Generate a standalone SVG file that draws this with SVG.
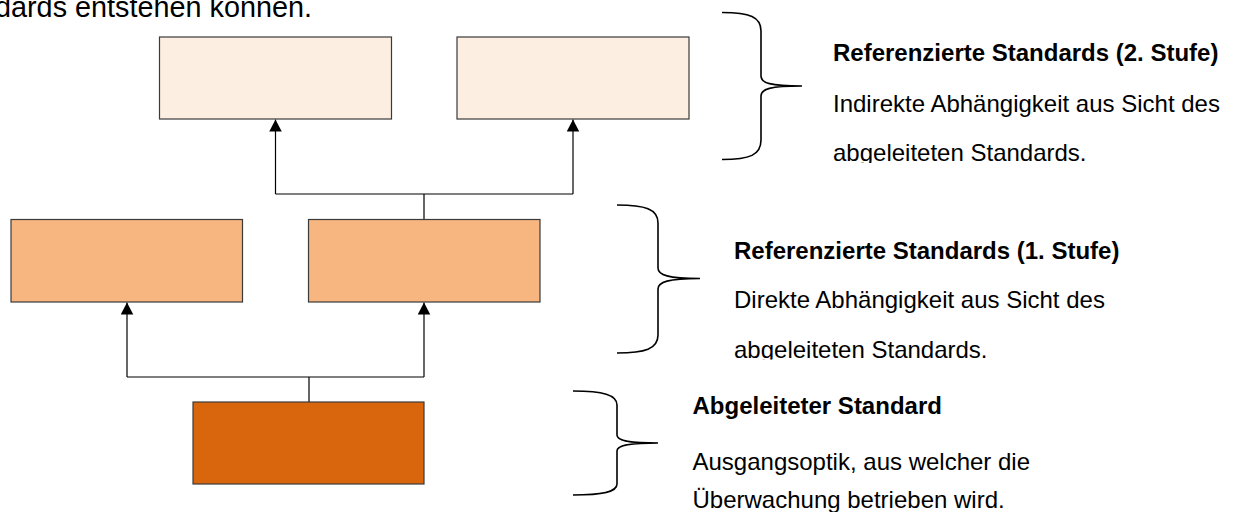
<svg xmlns="http://www.w3.org/2000/svg" width="1240" height="512" viewBox="0 0 1240 512">
<style>
  .box { stroke: #3a3a3a; stroke-width: 1.2; }
  .lvl2 { fill: #FDEEE2; }
  .lvl1 { fill: #F7B580; }
  .lvl0 { fill: #D9660C; }
  .conn { fill: none; stroke: #000; stroke-width: 1.2; }
  .brace { fill: none; stroke: #000; stroke-width: 1.6; }
  .t { font-family: "Liberation Sans", Arial, sans-serif; font-size: 24px; fill: #000; }
  .b { font-weight: bold; }
  .top { font-family: "Liberation Sans", Arial, sans-serif; font-size: 28.8px; fill: #000; }
</style>
<defs>
  <marker id="arr" markerWidth="13" markerHeight="13" refX="12" refY="6.25" orient="auto" markerUnits="userSpaceOnUse">
    <path d="M0,0 L12,6.25 L0,12.5 Z" fill="#000"/>
  </marker>
  <clipPath id="c2"><rect x="800" y="0" width="440" height="163"/></clipPath>
  <clipPath id="c1"><rect x="700" y="200" width="540" height="159.5"/></clipPath>
</defs>

<text class="top" x="-5" y="16.5">dards entstehen können.</text>

<g id="connectors">
  <path class="conn" d="M424,219 L424,194 M275.5,194 L573,194" />
  <path class="conn" d="M275.5,194 L275.5,119.5" marker-end="url(#arr)"/>
  <path class="conn" d="M573,194 L573,119.5" marker-end="url(#arr)"/>
  <path class="conn" d="M309,402 L309,377 M127,377 L424,377" />
  <path class="conn" d="M127,377 L127,302.5" marker-end="url(#arr)"/>
  <path class="conn" d="M424,377 L424,302.5" marker-end="url(#arr)"/>
</g>

<g id="ref2a"><rect class="box lvl2" x="159.5" y="37" width="232" height="82"/></g>
<g id="ref2b"><rect class="box lvl2" x="457" y="37" width="232" height="82"/></g>
<g id="ref1a"><rect class="box lvl1" x="11" y="219.5" width="231.5" height="82.5"/></g>
<g id="ref1b"><rect class="box lvl1" x="308.5" y="219.5" width="231.5" height="82.5"/></g>
<g id="derived"><rect class="box lvl0" x="193" y="402" width="231" height="82"/></g>

<g id="brace2">
  <path class="brace" d="M722,12.5 C750,12.5 761,17 761,31 L761,76 C761,83 770,86 802,86 C770,86 761,89 761,96 L761,140 C761,155 750,159.5 722,159.5"/>
</g>
<g id="brace1">
  <path class="brace" d="M617,205 C645,205 658,209 658,223 L658,268 C658,275 668,278.5 700,278.5 C668,278.5 658,282 658,289 L658,335 C658,349 645,353 617,353"/>
</g>
<g id="brace0">
  <path class="brace" d="M573,391 C603,391 617,395 617,405 L617,435 C617,440 626,443 658,443 C626,443 617,446 617,451 L617,484 C617,492 603,495 573,495"/>
</g>

<g id="label2" clip-path="url(#c2)">
  <text class="t b" x="833" y="61">Referenzierte Standards (2. Stufe)</text>
  <text class="t" x="833" y="112">Indirekte Abhängigkeit aus Sicht des</text>
  <text class="t" x="833" y="161">abgeleiteten Standards.</text>
</g>
<g id="label1" clip-path="url(#c1)">
  <text class="t b" x="734" y="259">Referenzierte Standards (1. Stufe)</text>
  <text class="t" x="734" y="308">Direkte Abhängigkeit aus Sicht des</text>
  <text class="t" x="734" y="357.5">abgeleiteten Standards.</text>
</g>
<g id="label0">
  <text class="t b" x="692.5" y="413.5">Abgeleiteter Standard</text>
  <text class="t" x="692.5" y="469.5">Ausgangsoptik, aus welcher die</text>
  <text class="t" x="692.5" y="508">Überwachung betrieben wird.</text>
</g>
</svg>
